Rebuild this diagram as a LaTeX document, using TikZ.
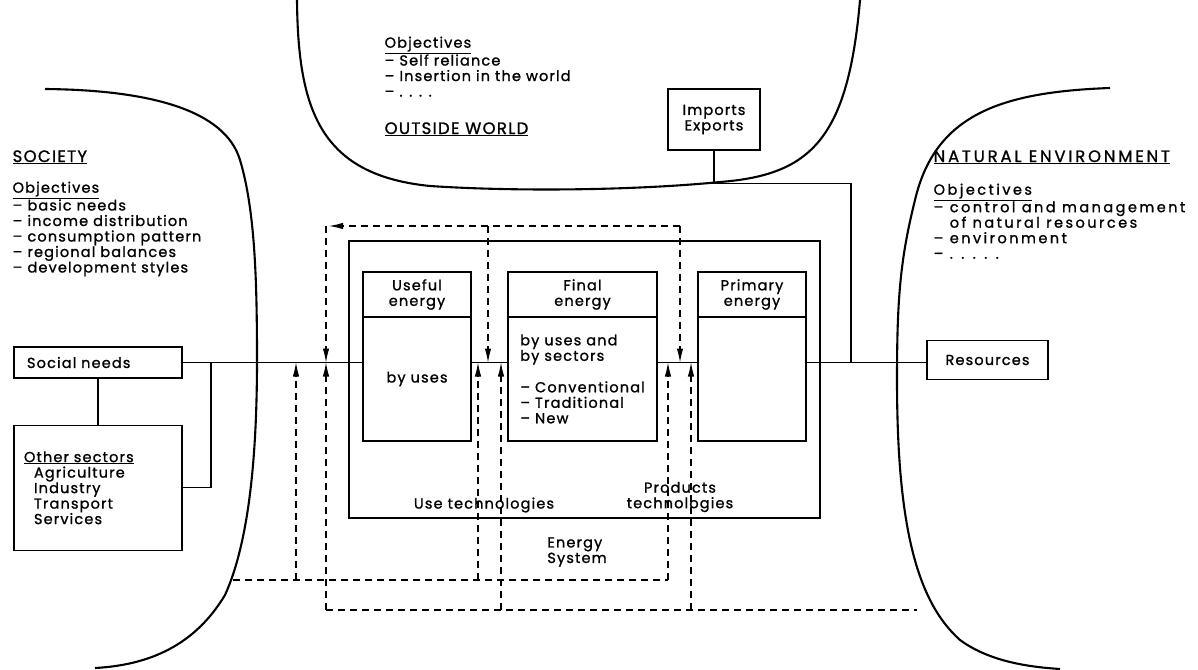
\documentclass[tikz,border=0pt]{standalone}
\usepackage{fontspec}
\setmainfont{Poppins}[LetterSpace=8,FakeBold=1.2]
\usetikzlibrary{positioning,arrows.meta}

\newcommand\bodyfnt{\fontsize{14.5}{15.5}\selectfont}
\newcommand\headfnt{\fontsize{16.5}{18}\selectfont}
\newcommand\widefnt{\addfontfeature{LetterSpace=17}}

\begin{document}
\begin{tikzpicture}[x=1pt, y=-1pt, line width=1.3pt,
  every node/.style={font=\bodyfnt},
  heading/.style={font=\headfnt, anchor=base west, inner sep=0pt},
  objlist/.style={align=left, anchor=north west, inner sep=0pt},
  textbox/.style={draw, inner sep=0pt, align=center},
  sysbox/.style={draw, line width=2.6pt, inner sep=0pt, minimum width=471pt, minimum height=277pt},
  headbox/.style={draw, inner sep=0pt, outer sep=0pt, align=center, minimum height=45pt},
  bodybox/.style={draw, inner sep=0pt, outer sep=0pt, align=left, minimum height=124pt},
  border/.style={line width=2.1pt},
  fb/.style={dash pattern=on 7pt off 5pt, line width=1.1pt},
  arr/.style={-{Latex[length=14pt,width=6.5pt]}},
]
\useasboundingbox (0,0) rectangle (1198,669);

% the three surroundings
\draw[border] (45,89) .. controls (150,90) and (225,110) .. (240,160)
  .. controls (255,210) and (257,280) .. (257,360)
  .. controls (257,450) and (250,540) .. (225,595)
  .. controls (195,645) and (150,665) .. (95,668);
\draw[border] (297,0) .. controls (298,110) and (320,175) .. (430,186)
  .. controls (520,192) and (640,190) .. (720,182)
  .. controls (810,175) and (848,140) .. (860,0);
\draw[border] (1110,88) .. controls (1000,92) and (935,115) .. (915,200)
  .. controls (900,260) and (897,300) .. (897,380)
  .. controls (897,520) and (915,600) .. (960,640)
  .. controls (990,662) and (1030,667) .. (1060,669);

\node[heading] (soc) at (12,162) {\underline{SOCIETY}};
\node[objlist] (socobj) at (12,181) {\underline{Objectives}\\-- basic needs\\-- income distribution\\-- consumption pattern\\-- regional balances\\-- development styles};

\node[heading] (ow) at (384,134) {\underline{OUTSIDE WORLD}};
\node[objlist] (owobj) at (384,36) {\underline{Objectives}\\-- Self reliance\\-- Insertion in the world\\-- . . . .};

\node[heading, font=\headfnt\widefnt] (ne) at (933,162) {\underline{NATURAL ENVIRONMENT}};
\node[objlist, font=\bodyfnt\widefnt] (neobj) at (933,183) {\underline{Objectives}\\-- control and management\\\phantom{-- }of natural resources\\-- environment\\-- . . . . .};

% society side
\node[textbox, text width=142pt, inner xsep=13pt, minimum height=31pt, align=left] (sn) at (98,362.5) {Social needs};
\node[textbox, below=46pt of sn, text width=148pt, inner xsep=10pt, minimum height=125pt, align=left] (os) {\underline{Other sectors}\\\hspace*{10pt}Agriculture\\\hspace*{10pt}Industry\\\hspace*{10pt}Transport\\\hspace*{10pt}Services};

% outside world and environment
\node[textbox, minimum width=92pt, minimum height=61pt] (ie) at (714,119.5) {Imports\\Exports};
\node[textbox, minimum width=121pt, minimum height=39pt] (res) at (987.5,360) {Resources};

% energy system
\node[sysbox] (es) at (584.5,379.5) {};
\node[headbox, minimum width=108pt] (ueh) at (417,294.5) {Useful\\energy};
\node[bodybox, minimum width=108pt, below=0pt of ueh] (ueb) {by uses};
\node[headbox, minimum width=149pt, right=37pt of ueh] (feh) {Final\\energy};
\node[bodybox, minimum width=149pt, below=0pt of feh] (feb) {by uses and\\by sectors\\[16pt]-- Conventional\\-- Traditional\\-- New};
\node[headbox, minimum width=108pt, right=41pt of feh] (peh) {Primary\\energy};
\node[bodybox, minimum width=108pt, below=0pt of peh] (peb) {};

\node[align=center] (ut) at (484,505) {Use technologies};
\node[align=center] (pt) at (680,497) {Products\\technologies};
\node[align=left] (esl) at (577,552) {Energy\\System};

% main chain
\draw (sn.east) -- (ueb.west |- sn.east);
\draw (ueb.east |- sn.east) -- (feb.west |- sn.east);
\draw (feb.east |- sn.east) -- (peb.west |- sn.east);
\draw (peb.east |- sn.east) -- (res.west |- sn.east);
\draw (sn.south) -- (os.north);
\coordinate (osj) at (211,362.5);
\draw (os.east) -| (osj);
\coordinate (ietap) at (851,362.5);
\draw (ie.south) -- ++(0,33) -| (ietap);

% feedback
\draw[fb, arr] (680,226) -- (329,226);
\foreach \x in {326,488,680}
  \draw[fb, arr] (\x,226) -- (\x,362.5);
\draw[fb] (233,580) -- (668,580);
\foreach \x in {296,478,668}
  \draw[fb, arr] (\x,580) -- (\x,362.5);
\draw[fb] (326,610) -- (917,610);
\foreach \x in {326,501,691}
  \draw[fb, arr] (\x,610) -- (\x,362.5);
\end{tikzpicture}
\end{document}
